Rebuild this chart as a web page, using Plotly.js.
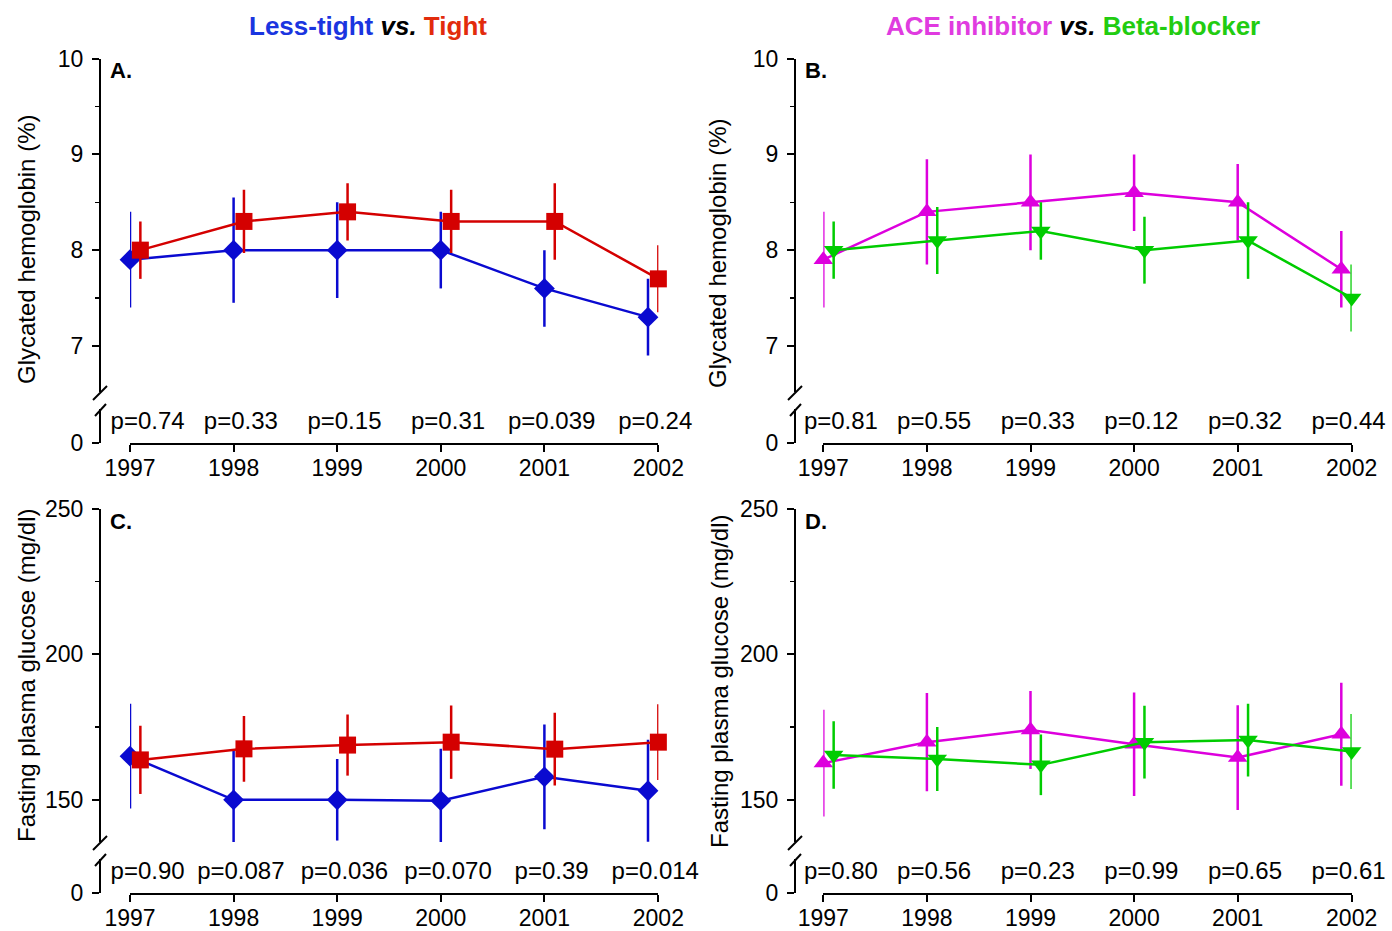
<!DOCTYPE html>
<html>
<head>
<meta charset="utf-8">
<script src="https://cdn.plot.ly/plotly-3.0.1.min.js"></script>
<style>html,body{margin:0;padding:0;background:#fff;}#chart{width:1392px;height:931px;}</style>
</head>
<body>
<div id="chart"></div>
<script>
// ---------------- DATA ----------------
const years = ['1997', '1998', '1999', '2000', '2001', '2002'];

// Panel A: Glycated hemoglobin (%), Less-tight vs Tight
const lessTightHbA1c    = [7.9, 8.0, 8.0, 8.0, 7.6, 7.3];
const lessTightHbA1cErr = [0.5, 0.55, 0.5, 0.4, 0.4, 0.4];
const tightHbA1c        = [8.0, 8.3, 8.4, 8.3, 8.3, 7.7];
const tightHbA1cErr     = [0.3, 0.33, 0.3, 0.33, 0.4, 0.35];
const pA = ['p=0.74', 'p=0.33', 'p=0.15', 'p=0.31', 'p=0.039', 'p=0.24'];

// Panel B: Glycated hemoglobin (%), ACE inhibitor vs Beta-blocker
const aceHbA1c     = [7.9, 8.4, 8.5, 8.6, 8.5, 7.8];
const aceHbA1cErr  = [0.5, 0.55, 0.5, 0.4, 0.4, 0.4];
const betaHbA1c    = [8.0, 8.1, 8.2, 8.0, 8.1, 7.5];
const betaHbA1cErr = [0.3, 0.35, 0.3, 0.35, 0.4, 0.35];
const pB = ['p=0.81', 'p=0.55', 'p=0.33', 'p=0.12', 'p=0.32', 'p=0.44'];

// Panel C: Fasting plasma glucose (mg/dl), Less-tight vs Tight
const lessTightFPG    = [165, 150, 150, 149.7, 157.9, 153.1];
const lessTightFPGErr = [18, 17, 14, 17.8, 18, 17.5];
const tightFPG        = [163.7, 167.5, 168.8, 169.8, 167.4, 169.8];
const tightFPGErr     = [11.7, 11.3, 10.5, 12.6, 12.5, 13];
const pC = ['p=0.90', 'p=0.087', 'p=0.036', 'p=0.070', 'p=0.39', 'p=0.014'];

// Panel D: Fasting plasma glucose (mg/dl), ACE inhibitor vs Beta-blocker
const aceFPG     = [162.6, 169.8, 174, 169.1, 164.5, 172.5];
const aceFPGErr  = [18.3, 16.9, 13.4, 17.8, 18, 17.7];
const betaFPG    = [165.4, 164, 162, 169.8, 170.5, 166.6];
const betaFPGErr = [11.6, 11, 10.4, 12.5, 12.5, 12.9];
const pD = ['p=0.80', 'p=0.56', 'p=0.23', 'p=0.99', 'p=0.65', 'p=0.61'];

// ---------------- STYLE / LAYOUT ----------------
const W = 1392, H = 931;
const px = x => x / W;
const py = y => 1 - y / H;
const FONT = 'Liberation Sans, Arial, Helvetica, sans-serif';
const C_BLUE = '#0a0ad0', C_RED = '#d40000', C_MAG = '#dd00dd', C_GREEN = '#00cc00';
const OFFSET = 0.1;      // horizontal offset of the second series
const YR_PX = 103.6;     // pixels per year

const yearNum = years.map(Number);
const panels = [
  {id: 'A', ax: 100, x0: 130, dy: 0,   xa: 'x',  yu: 'y',  yl: 'y2', yuKey: 'yaxis',  ylKey: 'yaxis2', xKey: 'xaxis',
   range: [6.518, 10], dtick: 1, minor: 0.5},
  {id: 'B', ax: 795, x0: 823.3, dy: 0, xa: 'x2', yu: 'y3', yl: 'y4', yuKey: 'yaxis3', ylKey: 'yaxis4', xKey: 'xaxis2',
   range: [6.518, 10], dtick: 1, minor: 0.5},
  {id: 'C', ax: 100, x0: 130, dy: 450, xa: 'x3', yu: 'y5', yl: 'y6', yuKey: 'yaxis5', ylKey: 'yaxis6', xKey: 'xaxis3',
   range: [135.5, 250], dtick: 50, minor: 25},
  {id: 'D', ax: 795, x0: 823.3, dy: 450, xa: 'x4', yu: 'y7', yl: 'y8', yuKey: 'yaxis7', ylKey: 'yaxis8', xKey: 'xaxis4',
   range: [135.5, 250], dtick: 50, minor: 25}
];

const series = [
  [{y: lessTightHbA1c, e: lessTightHbA1cErr, c: C_BLUE, s: 'diamond', sz: 16, name: 'Less-tight'},
   {y: tightHbA1c, e: tightHbA1cErr, c: C_RED, s: 'square', sz: 17, name: 'Tight'}, pA],
  [{y: aceHbA1c, e: aceHbA1cErr, c: C_MAG, s: 'triangle-up', sz: 17, name: 'ACE inhibitor'},
   {y: betaHbA1c, e: betaHbA1cErr, c: C_GREEN, s: 'triangle-down', sz: 17, name: 'Beta-blocker'}, pB],
  [{y: lessTightFPG, e: lessTightFPGErr, c: C_BLUE, s: 'diamond', sz: 16, name: 'Less-tight'},
   {y: tightFPG, e: tightFPGErr, c: C_RED, s: 'square', sz: 17, name: 'Tight'}, pC],
  [{y: aceFPG, e: aceFPGErr, c: C_MAG, s: 'triangle-up', sz: 17, name: 'ACE inhibitor'},
   {y: betaFPG, e: betaFPGErr, c: C_GREEN, s: 'triangle-down', sz: 17, name: 'Beta-blocker'}, pD]
];

const traces = [];
const layout = {
  width: W, height: H,
  margin: {l: 0, r: 0, t: 0, b: 0},
  paper_bgcolor: '#ffffff', plot_bgcolor: 'rgba(0,0,0,0)',
  showlegend: false,
  font: {family: FONT, color: '#000'},
  annotations: [], shapes: []
};

panels.forEach((p, i) => {
  const [s1, s2, pv] = series[i];
  [s1, s2].forEach((s, k) => {
    traces.push({
      type: 'scatter', mode: 'lines+markers', name: s.name,
      x: yearNum.map(v => v + k * OFFSET), y: s.y,
      xaxis: p.xa, yaxis: p.yu, cliponaxis: false,
      line: {color: s.c, width: 2.5},
      marker: {symbol: s.s, size: s.sz, color: s.c, line: {width: 0}},
      error_y: {type: 'data', array: s.e, visible: true, width: 0, thickness: 2.5, color: s.c}
    });
  });
  const top = 58.7 + p.dy, brk = 392 + p.dy, low = 409 + p.dy, bot = 443 + p.dy;
  // p-values in the lower (broken) axis segment
  traces.push({
    type: 'scatter', mode: 'text', x: yearNum.map((v, j) => v + (j === 0 ? 0.17 : 0.07)),
    y: yearNum.map(() => (bot - 423 - p.dy) / (bot - low)), text: pv, xaxis: p.xa, yaxis: p.yl, cliponaxis: false,
    textfont: {size: 24, color: '#000', family: FONT}, hoverinfo: 'skip'
  });

  const common = {
    anchor: 'free', position: px(p.ax), showline: true, linewidth: 2, linecolor: '#000',
    ticks: 'outside', ticklen: 7, tickwidth: 2, tickcolor: '#000', showgrid: false, zeroline: false,
    tickfont: {size: 23, color: '#000', family: FONT}, fixedrange: true, ticklabelstandoff: 4
  };
  layout[p.yuKey] = Object.assign({}, common, {
    domain: [py(brk), py(top)], range: p.range, tick0: 0, dtick: p.dtick,
    minor: {dtick: p.minor, tick0: 0, ticks: 'outside', ticklen: 4, tickwidth: 1.5, tickcolor: '#000', showgrid: false}
  });
  layout[p.ylKey] = Object.assign({}, common, {
    domain: [py(bot), py(low)], range: [0, 1], tickvals: [0], ticktext: ['0']
  });
  layout[p.xKey] = {
    domain: [px(p.x0), px(p.x0 + (5 + OFFSET) * YR_PX)], range: [1997, 2002 + OFFSET],
    anchor: p.yl, showline: true, linewidth: 2, linecolor: '#000',
    tickvals: yearNum.map((v, j) => j === years.length - 1 ? v + OFFSET : v), ticktext: years,
    ticks: 'outside', ticklen: 7, tickwidth: 2, tickcolor: '#000', showgrid: false, zeroline: false,
    tickfont: {size: 23, color: '#000', family: FONT}, fixedrange: true, ticklabelstandoff: -4
  };
  // axis break marks
  layout.shapes.push(
    {type: 'line', xref: 'paper', yref: 'paper', x0: px(p.ax + 7), y0: py(386 + p.dy), x1: px(p.ax - 7), y1: py(400 + p.dy), line: {color: '#000', width: 2}},
    {type: 'line', xref: 'paper', yref: 'paper', x0: px(p.ax - 5), y0: py(416 + p.dy), x1: px(p.ax + 6), y1: py(404 + p.dy), line: {color: '#000', width: 2}}
  );
  // panel letter
  layout.annotations.push({
    xref: 'paper', yref: 'paper', x: px(p.ax + 8), y: py(71 + p.dy), xanchor: 'left', yanchor: 'middle',
    text: '<b>' + p.id + '.</b>', showarrow: false, font: {size: 22, color: '#000', family: FONT}
  });
});

// y axis titles
const yTitles = [
  {t: 'Glycated hemoglobin (%)', x: 26, y: 250},
  {t: 'Glycated hemoglobin (%)', x: 717, y: 254},
  {t: 'Fasting plasma glucose (mg/dl)', x: 26, y: 676},
  {t: 'Fasting plasma glucose (mg/dl)', x: 719, y: 681}
];
yTitles.forEach(a => layout.annotations.push({
  xref: 'paper', yref: 'paper', x: px(a.x), y: py(a.y), xanchor: 'center', yanchor: 'middle',
  text: a.t, textangle: -90, showarrow: false, font: {size: 24, color: '#000', family: FONT}
}));

// column headers
layout.annotations.push(
  {xref: 'paper', yref: 'paper', x: px(368), y: py(26), xanchor: 'center', yanchor: 'middle', showarrow: false,
   font: {size: 26, family: FONT},
   text: '<b><span style="color:#1a35e0">Less-tight</span> <i><span style="color:#000">vs.</span></i> <span style="color:#e22b0c">Tight</span></b>'},
  {xref: 'paper', yref: 'paper', x: px(1073), y: py(26), xanchor: 'center', yanchor: 'middle', showarrow: false,
   font: {size: 26, family: FONT},
   text: '<b><span style="color:#e03be0">ACE inhibitor</span> <i><span style="color:#000">vs.</span></i> <span style="color:#22cc11">Beta-blocker</span></b>'}
);

Plotly.newPlot('chart', traces, layout, {displayModeBar: false, staticPlot: true});
</script>
</body>
</html>
